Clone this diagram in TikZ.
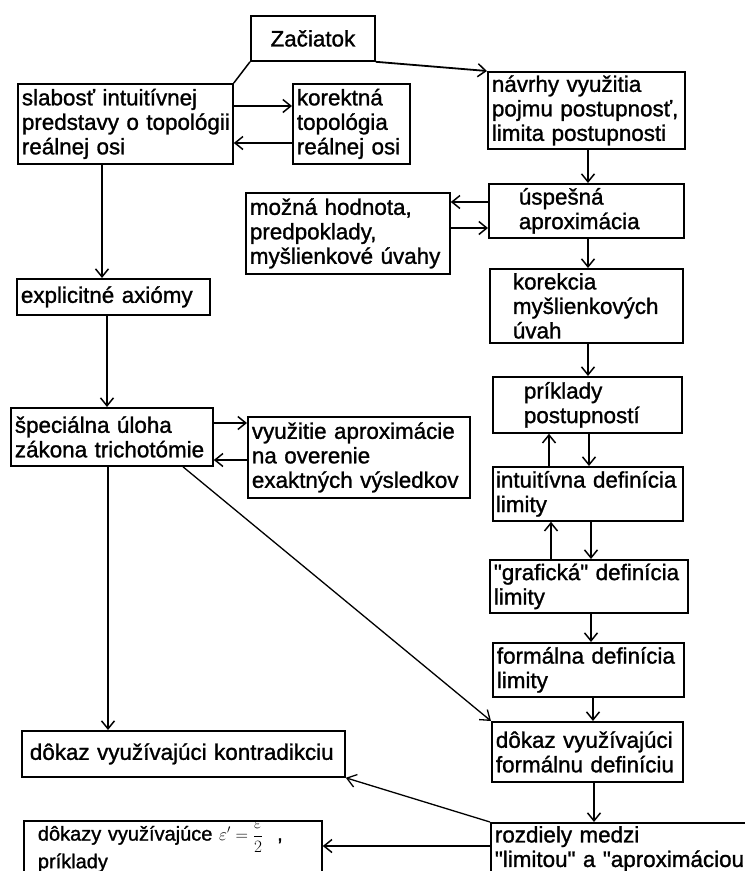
\documentclass[tikz,border=0pt]{standalone}
\usepackage{fontspec}
\setmainfont[FakeBold=1.2,Ligatures=TeXOff]{Liberation Sans}
\usetikzlibrary{arrows.meta}
\begin{document}
\begin{tikzpicture}[x=1pt,y=-1pt,
  box/.style={draw, line width=1.8pt, anchor=north west, inner xsep=4pt, inner ysep=0pt, align=left, font=\fontsize{22.4}{24.5}\selectfont},
  arr/.style={line width=1.8pt, -{Straight Barb[length=8pt,width=13pt,line width=1.5pt]}},
  thinarr/.style={line width=1.3pt, -{Straight Barb[length=9pt,width=13pt,line width=1.3pt]}},
  plain/.style={line width=1.5pt}]
\useasboundingbox (0,0) rectangle (745,871);
\fill[white] (0,0) rectangle (745,871);
\clip (0,0) rectangle (745,871);

% nodes
\node[box, minimum width=124pt, minimum height=45pt, text width=116pt, align=center] (zac) at (250,15) {Začiatok};
\node[box, minimum width=215pt, minimum height=80pt, text width=207pt] (slab) at (17,83) {slabosť~intuitívnej\\predstavy~o~topológii\\reálnej~osi};
\node[box, minimum width=117pt, minimum height=80pt, text width=109pt] (kor) at (292,83) {korektná\\topológia\\reálnej~osi};
\node[box, minimum width=197pt, minimum height=77pt, text width=189pt] (navrhy) at (487,71) {návrhy~využitia\\pojmu~postupnosť,\\limita~postupnosti};
\node[box, minimum width=195pt, minimum height=54pt, text width=187pt] (usp) at (488,183) {\hspace*{26pt}úspešná\\\hspace*{26pt}aproximácia};
\node[box, minimum width=204pt, minimum height=81pt, text width=196pt] (mozna) at (245,192) {možná~hodnota,\\predpoklady,\\myšlienkové~úvahy};
\node[box, minimum width=193pt, minimum height=74pt, text width=185pt] (korek) at (489,268) {\hspace*{19pt}korekcia\\\hspace*{19pt}myšlienkových\\\hspace*{19pt}úvah};
\node[box, minimum width=189pt, minimum height=56pt, text width=181pt] (prik) at (492,376) {\hspace*{27pt}príklady\\\hspace*{27pt}postupností};
\node[box, minimum width=190pt, minimum height=54pt, text width=184pt, inner xsep=3pt] (intu) at (492,466) {intuitívna~definícia\\limity};
\node[box, minimum width=198pt, minimum height=53pt, text width=190pt] (graf) at (489,559) {"grafická"~definícia\\limity};
\node[box, minimum width=191pt, minimum height=54pt, text width=183pt] (form) at (492,642) {formálna~definícia\\limity};
\node[box, minimum width=191pt, minimum height=60pt, text width=183pt] (dokF) at (491,721) {dôkaz~využívajúci\\formálnu~definíciu};
\node[box, minimum width=280pt, minimum height=52pt, text width=272pt] (rozd) at (490,822) {rozdiely~medzi\\"limitou"~a~"aproximáciou};
\node[box, minimum width=193pt, minimum height=36pt, text width=185pt] (expl) at (16,278) {explicitné~axiómy};
\node[box, minimum width=202pt, minimum height=58pt, text width=194pt] (spec) at (10,407) {špeciálna~úloha\\zákona~trichotómie};
\node[box, minimum width=222pt, minimum height=81pt, text width=214pt] (vyuz) at (247,416) {využitie~aproximácie\\na~overenie\\exaktných~výsledkov};
\node[box, minimum width=323pt, minimum height=46pt, text width=315pt] (contra) at (21,730) {\hspace*{4pt}dôkaz~využívajúci~kontradikciu};
\node[box, minimum width=298pt, minimum height=52pt, text width=290pt, font=\fontsize{20}{22}\selectfont] (dokazy) at (23,820) {\hspace*{10pt}dôkazy~využívajúce~{\fontsize{17}{17}\selectfont$\displaystyle\varepsilon'=\frac{\varepsilon}{2}$}\hspace*{14pt},\\\hspace*{10pt}príklady};

% connectors
\draw[plain] (slab.north east) -- (zac.south west);
\draw[arr] (zac.south east) -- (navrhy.north west);

\coordinate (a1) at ([yshift=-23pt]slab.north east);
\draw[arr] (a1) -- (a1 -| kor.west);
\coordinate (a2) at ([yshift=-60pt]kor.north west);
\draw[arr] (a2) -- (a2 -| slab.east);

\coordinate (b1) at ([xshift=101pt]navrhy.south west);
\draw[arr] (b1) -- (b1 |- usp.north);
\coordinate (b2) at ([yshift=-19pt]usp.north west);
\draw[arr] (b2) -- (b2 -| mozna.east);
\coordinate (b3) at ([yshift=-36pt]mozna.north east);
\draw[arr] (b3) -- (b3 -| usp.west);
\coordinate (b4) at ([xshift=100pt]usp.south west);
\draw[arr] (b4) -- (b4 |- korek.north);
\coordinate (b5) at ([xshift=99pt]korek.south west);
\draw[arr] (b5) -- (b5 |- prik.north);
\coordinate (b6) at ([xshift=57pt]intu.north west);
\draw[arr] (b6) -- (b6 |- prik.south);
\coordinate (b7) at ([xshift=97pt]prik.south west);
\draw[arr] (b7) -- (b7 |- intu.north);
\coordinate (b8) at ([xshift=62pt]graf.north west);
\draw[arr] (b8) -- (b8 |- intu.south);
\coordinate (b9) at ([xshift=99pt]intu.south west);
\draw[arr] (b9) -- (b9 |- graf.north);
\coordinate (b10) at ([xshift=102pt]graf.south west);
\draw[arr] (b10) -- (b10 |- form.north);
\coordinate (b11) at ([xshift=101pt]form.south west);
\draw[arr] (b11) -- (b11 |- dokF.north);
\coordinate (b12) at ([xshift=103pt]dokF.south west);
\draw[arr] (b12) -- (b12 |- rozd.north);
\draw[thinarr] (rozd.north west) -- (contra.south east);
\coordinate (b13) at ([yshift=-24pt]rozd.north west);
\draw[arr] (b13) -- (b13 -| dokazy.east);

\coordinate (c1) at ([xshift=85pt]slab.south west);
\draw[arr] (c1) -- (c1 |- expl.north);
\coordinate (c2) at ([xshift=91pt]expl.south west);
\draw[arr] (c2) -- (c2 |- spec.north);
\coordinate (c3) at ([yshift=-16pt]spec.north east);
\draw[arr] (c3) -- (c3 -| vyuz.west);
\coordinate (c4) at ([yshift=-44pt]vyuz.north west);
\draw[arr] (c4) -- (c4 -| spec.east);
\coordinate (c5) at ([xshift=98pt]spec.south west);
\draw[arr] (c5) -- (c5 |- contra.north);
\coordinate (c6) at ([xshift=173pt]spec.south west);
\draw[thinarr] (c6) -- (dokF.north west);
\end{tikzpicture}
\end{document}
